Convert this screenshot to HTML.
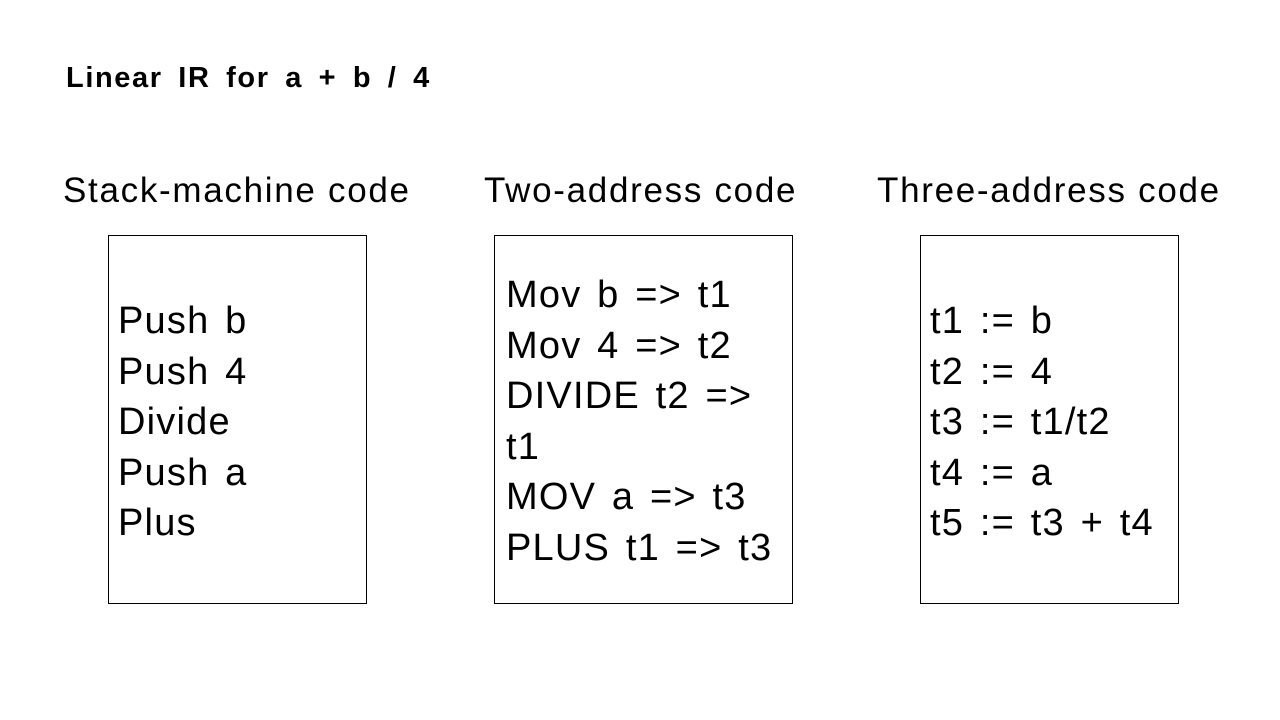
<!DOCTYPE html>
<html>
<head>
<meta charset="utf-8">
<style>
  html,body{margin:0;padding:0;background:#fff;}
  body{width:1280px;height:720px;position:relative;overflow:hidden;font-family:"Liberation Sans",sans-serif;color:#000;}
  .title{position:absolute;left:66px;top:62px;font-size:29px;font-weight:bold;letter-spacing:1.6px;word-spacing:6px;white-space:nowrap;}
  .hdr{position:absolute;top:171px;font-size:35px;white-space:nowrap;letter-spacing:1.7px;}
  .box{position:absolute;top:235px;height:369px;border:1px solid #000;box-sizing:border-box;}
  .code{position:absolute;font-size:38px;line-height:50.5px;white-space:nowrap;letter-spacing:1.2px;word-spacing:4px;}
</style>
</head>
<body>
  <div class="title">Linear IR for a + b / 4</div>

  <div class="hdr" style="left:63px">Stack-machine code</div>
  <div class="hdr" style="left:484px">Two-address code</div>
  <div class="hdr" style="left:877px">Three-address code</div>

  <div class="box" style="left:108px;width:259px"></div>
  <div class="box" style="left:494px;width:299px"></div>
  <div class="box" style="left:920px;width:259px"></div>

  <div class="code" style="left:118px;top:296px">Push b<br>Push 4<br>Divide<br>Push a<br>Plus</div>
  <div class="code" style="left:506px;top:270px">Mov b =&gt; t1<br>Mov 4 =&gt; t2<br>DIVIDE t2 =&gt;<br>t1<br>MOV a =&gt; t3<br>PLUS t1 =&gt; t3</div>
  <div class="code" style="left:930px;top:296px">t1 := b<br>t2 := 4<br>t3 := t1/t2<br>t4 := a<br>t5 := t3 + t4</div>
</body>
</html>
